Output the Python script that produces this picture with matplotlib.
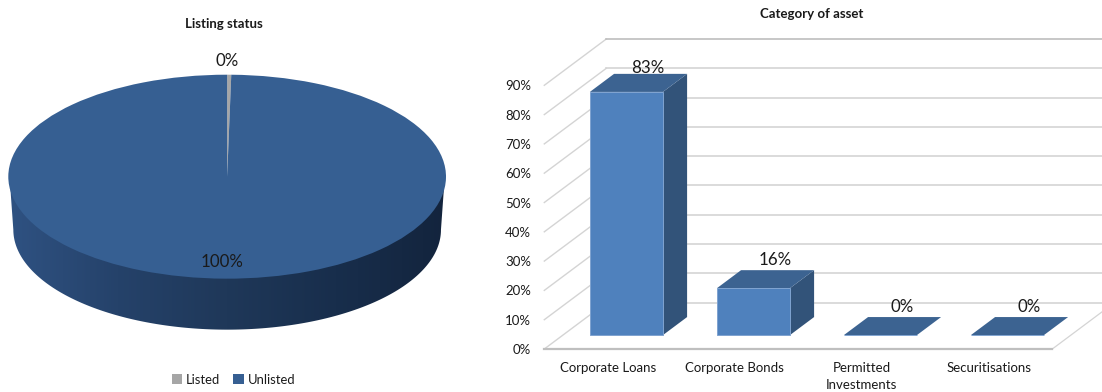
import numpy as np
import matplotlib
matplotlib.use("Agg")
import matplotlib.pyplot as plt
from matplotlib.patches import Patch, PathPatch
from matplotlib.path import Path
from matplotlib.colors import LinearSegmentedColormap

plt.rcParams["font.family"] = ["Lato", "DejaVu Sans"]

W, H = 1102, 392

# Listing status
status_labels = ["Listed", "Unlisted"]
status_share = [0.3, 99.7]

# Category of asset
asset_labels = ["Corporate Loans", "Corporate Bonds", "Permitted\nInvestments", "Securitisations"]
asset_share = [83, 16, 0, 0]
pct_ticks = [0, 10, 20, 30, 40, 50, 60, 70, 80, 90]

GREY = "#a6a6a6"
PIE_TOP = "#365f92"
BAR_FRONT = "#4f81bd"
BAR_EDGE = "#7fa3d0"
BAR_TOP = "#3c6391"
BAR_SIDE = "#325379"
GRID = "#d4d4d4"
TEXT = "#1a1a1a"


def px_axes(fig, left, top, right, bottom):
    # axes rectangle given in pixels from the top-left corner
    return fig.add_axes([left / W, 1 - bottom / H, (right - left) / W, (bottom - top) / H])


fig = plt.figure(figsize=(W / 100, H / 100), dpi=100)

# ---------------------------------------------------------
# Left: 3D-looking pie
# ---------------------------------------------------------
ax_pie = px_axes(fig, 8.3, 74.7, 446, 332)
wedges, _ = ax_pie.pie(status_share, colors=[GREY, PIE_TOP], startangle=90, counterclock=False, radius=1)
ax_pie.set_aspect("auto")
for w in wedges:
    w.set_zorder(3)
    w.set_clip_on(False)

# rim: lower half of the top ellipse joined to the lower half of a slightly narrower base;
# the upper edge sits a little inside the top face so no seam shows between them
t = np.linspace(np.pi, 2 * np.pi, 200)
upper = np.column_stack([0.995 * np.cos(t), 0.02 + np.sin(t)])
lower = np.column_stack([0.977 * np.cos(t[::-1]), -0.52 + 0.98 * np.sin(t[::-1])])
rim = Path(np.vstack([upper, lower, upper[:1]]), closed=True)
rim_cmap = LinearSegmentedColormap.from_list("rim", ["#2f5282", "#25426a", "#1f3859", "#182e4c", "#13243d"])
rim_img = ax_pie.imshow(np.linspace(0, 1, 256)[None, :], cmap=rim_cmap, extent=[-1, 1, -1.6, 0.1],
                        aspect="auto", zorder=2)
rim_patch = PathPatch(rim, transform=ax_pie.transData, fc="none", ec="none")
ax_pie.add_patch(rim_patch)
rim_img.set_clip_path(rim_patch)
ax_pie.set_xlim(-1, 1)
ax_pie.set_ylim(-1.523, 1)

pie_fs = 12.2
ax_pie.annotate(f"{status_share[0]:.0f}%", xy=(0, 1), xytext=(0, 10), textcoords="offset points",
                ha="center", va="center", fontsize=pie_fs, color=TEXT, zorder=5,
                annotation_clip=False)
ax_pie.text(-0.025, -0.84, f"{status_share[1]:.0f}%", ha="center", va="center", fontsize=pie_fs,
            color=TEXT, zorder=5)

fig.text(224 / W, 1 - 23.5 / H, "Listing status", ha="center", va="center", fontsize=9.5,
         fontweight="bold", color=TEXT)

handles = [Patch(fc=GREY, ec="none"), Patch(fc=PIE_TOP, ec="none")]
fig.legend(handles, status_labels, ncol=2, loc="center", bbox_to_anchor=(233.5 / W, 1 - 379.5 / H),
           frameon=False, fontsize=9.4, handlelength=0.8, handleheight=0.8, handletextpad=0.3,
           columnspacing=1.0, labelcolor=TEXT)

# ---------------------------------------------------------
# Right: 3D-looking columns, drawn on the front plane of the box
# ---------------------------------------------------------
ax = px_axes(fig, 544.3, 85.3, 1052.3, 349)
ax.set_xlim(0, 4)
ax.set_ylim(0, 90)
for s in ax.spines.values():
    s.set_visible(False)
ax.set_xticks(np.arange(len(asset_labels)) + 0.5, asset_labels)
ax.set_yticks(pct_ticks, [f"{p}%" for p in pct_ticks])
ax.tick_params(axis="both", length=0, labelsize=9.5, labelcolor=TEXT)
ax.tick_params(axis="y", pad=9.5)
ax.tick_params(axis="x", pad=9)
for lbl in ax.get_xticklabels():
    lbl.set_linespacing(1.55)
ax.patch.set_visible(False)

# shift per unit of depth, in data units (127 px per category, 2.93 px per percent)
DX = 62 / 127
DY = 46.3 / 2.93
BAR_W = 0.575
BAR_D0, BAR_D1 = 0.3, 0.69


def proj(x, y, d):
    return x + d * DX, y + d * DY


# side wall and back wall grid
for p in pct_ticks:
    c = "#bdbdbd" if p == 90 else GRID
    x0, y0 = proj(0, p, 0)
    x1, y1 = proj(0, p, 1)
    x2, y2 = proj(4, p, 1)
    ax.plot([x0, x1], [y0, y1], color=GRID, lw=1.0, clip_on=False, zorder=1)
    ax.plot([x1, x2], [y1, y2], color=c, lw=1.2, clip_on=False, zorder=1)

# floor edges
xe, ye = proj(4, 0, 1)
ax.plot([4, xe], [0, ye], color=GRID, lw=0.9, clip_on=False, zorder=1)
ax.plot([0, 4], [0, 0], color="#bfbfbf", lw=1.6, clip_on=False, zorder=2)

for i, v in enumerate(asset_share):
    xl = i + 0.5 - BAR_W / 2
    xr = xl + BAR_W
    fl = [proj(xl, v, BAR_D0), proj(xr, v, BAR_D0), proj(xr, v, BAR_D1), proj(xl, v, BAR_D1)]
    sd = [proj(xr, 0, BAR_D0), proj(xr, v, BAR_D0), proj(xr, v, BAR_D1), proj(xr, 0, BAR_D1)]
    fr = [proj(xl, 0, BAR_D0), proj(xr, 0, BAR_D0), proj(xr, v, BAR_D0), proj(xl, v, BAR_D0)]
    ax.fill(*zip(*sd), fc=BAR_SIDE, ec="none", zorder=3, clip_on=False)
    ax.fill(*zip(*fl), fc=BAR_TOP, ec="none", zorder=3, clip_on=False)
    ax.fill(*zip(*fr), fc=BAR_FRONT, ec=BAR_EDGE, lw=0.7, zorder=4, clip_on=False)
    lx, ly = proj(i + 0.5, v, BAR_D1)
    ax.annotate(f"{v}%", xy=(lx, ly), xytext=(-2, 4.5 if v > 50 else 7.5), textcoords="offset points",
                ha="center", va="center", fontsize=12.2, color=TEXT, zorder=5, annotation_clip=False)

fig.text(811.5 / W, 1 - 13.7 / H, "Category of asset", ha="center", va="center", fontsize=9.5,
         fontweight="bold", color=TEXT)

fig.savefig("out.png", dpi=100)
